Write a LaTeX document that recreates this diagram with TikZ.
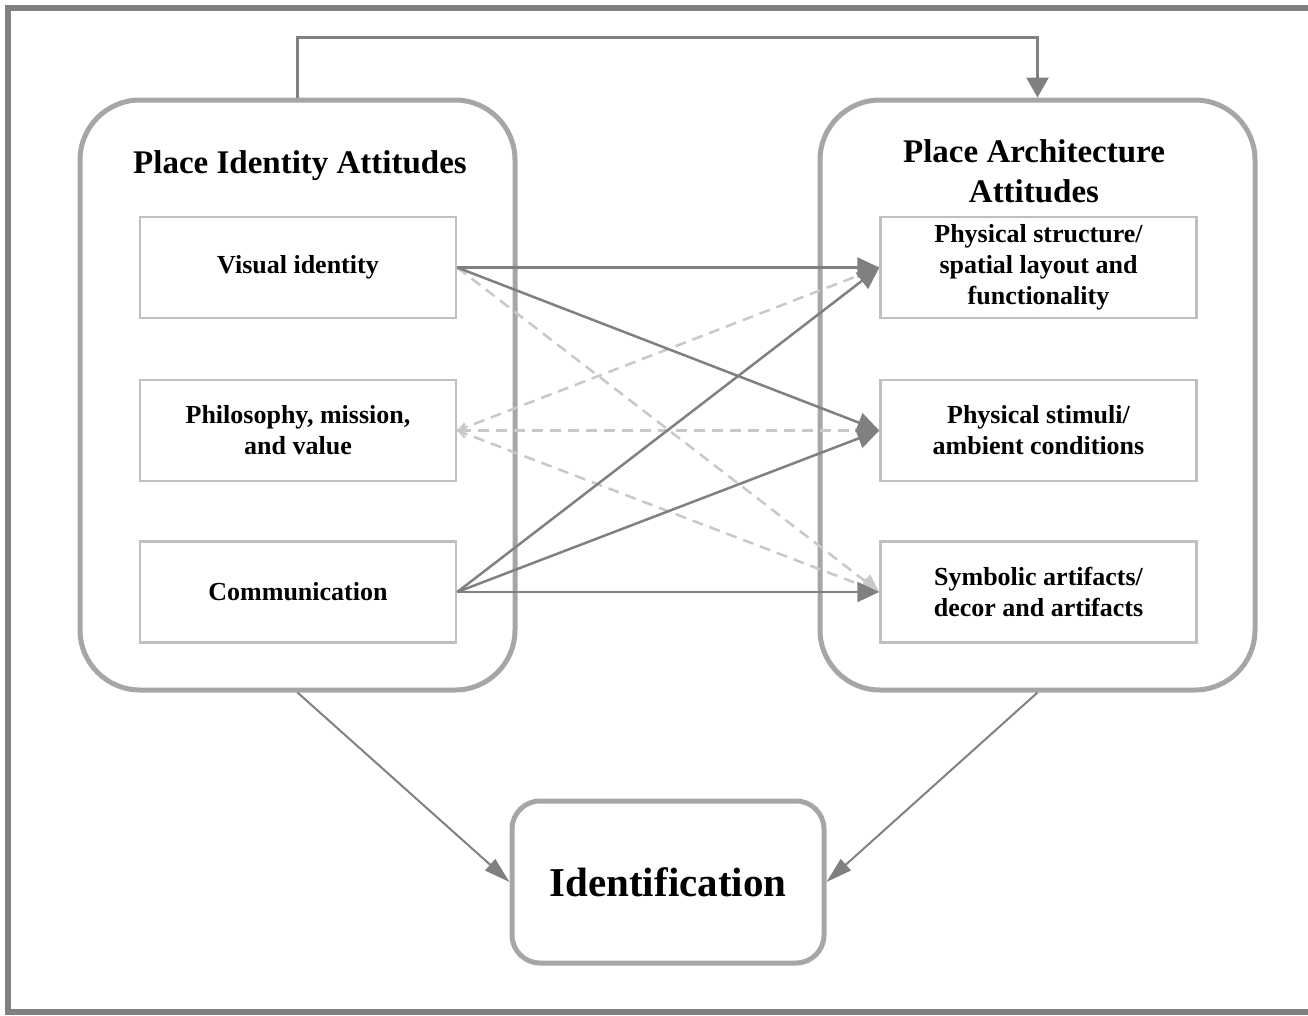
\documentclass[tikz,border=0pt]{standalone}
\usepackage{fontspec}
\setmainfont{Liberation Serif}
\usetikzlibrary{arrows.meta}
\definecolor{framegray}{HTML}{7F7F7F}
\definecolor{boxgray}{HTML}{A6A6A6}
\definecolor{itemgray}{HTML}{BFBFBF}
\definecolor{linkgray}{HTML}{808080}
\definecolor{weakgray}{HTML}{C8C8C8}
\begin{document}
\begin{tikzpicture}[x=1pt,y=-1pt,
  bigbox/.style={draw=boxgray,line width=5pt,rounded corners=60pt,minimum width=435pt,minimum height=590pt},
  itembox/.style={draw=itemgray,line width=2.5pt,minimum width=316pt,minimum height=101pt,align=center,font=\fontsize{26}{31}\selectfont\bfseries},
  titletext/.style={align=center,font=\fontsize{33}{40}\selectfont\bfseries},
  link/.style={draw=linkgray,line width=2.5pt,-{Triangle[length=22pt,width=20pt]}},
  weak/.style={draw=weakgray,line width=2.5pt,dash pattern=on 11pt off 7pt}]
\useasboundingbox (0,0) rectangle (1308,1015);
\draw[framegray,line width=6pt] (1314,7.5) -- (7.5,7.5) -- (7.5,1011.5) -- (1314,1011.5);
% outer boxes
\node[bigbox] (lpia) at (297.5,395) {};
\node[bigbox] (rpaa) at (1037.5,395) {};
\node[titletext] (lpiatitle) at (300,166) {Place Identity Attitudes};
\node[titletext] (rpaatitle) at (1034,171) {Place Architecture\\Attitudes};
% left items
\node[itembox] (vis) at (298,267.5) {Visual identity};
\node[itembox] (phil) at (298,430.5) {Philosophy, mission,\\and value};
\node[itembox] (comm) at (298,592) {Communication};
% right items
\node[itembox] (phys) at (1038.5,267.5) {Physical structure/\\spatial layout and\\functionality};
\node[itembox] (stim) at (1038.5,430.5) {Physical stimuli/\\ambient conditions};
\node[itembox] (sym) at (1038.5,592) {Symbolic artifacts/\\decor and artifacts};
\node[draw=boxgray,line width=5pt,rounded corners=28pt,minimum width=312pt,minimum height=162pt,font=\fontsize{41}{48}\selectfont\bfseries] (ident) at (668,882) {Identification};
\coordinate (topbar) at (668,37);
% dashed links
\draw[weak,-{Triangle[length=18pt,width=16pt]}] (vis.east) -- (sym.west);
\draw[weak] (phil.east) -- (phys.west);
\draw[weak,{Straight Barb[length=6pt,width=14pt]}-] (phil.east) -- (stim.west);
\draw[weak,-{Triangle[length=18pt,width=16pt]}] (phil.east) -- (sym.west);
% solid links
\draw[link] (vis.east) -- (phys.west);
\draw[link] (vis.east) -- (stim.west);
\draw[link] (comm.east) -- (phys.west);
\draw[link] (comm.east) -- (stim.west);
\draw[link] (comm.east) -- (sym.west);
\draw[link,line width=3pt,-{Triangle[length=20pt,width=22pt]}] (lpia.north) |- (topbar) -| (rpaa.north);
\draw[link,line width=2pt,-{Triangle[length=26pt,width=15pt]}] (lpia.south) -- (ident.west);
\draw[link,line width=2pt,-{Triangle[length=26pt,width=15pt]}] (rpaa.south) -- (ident.east);
\end{tikzpicture}
\end{document}
